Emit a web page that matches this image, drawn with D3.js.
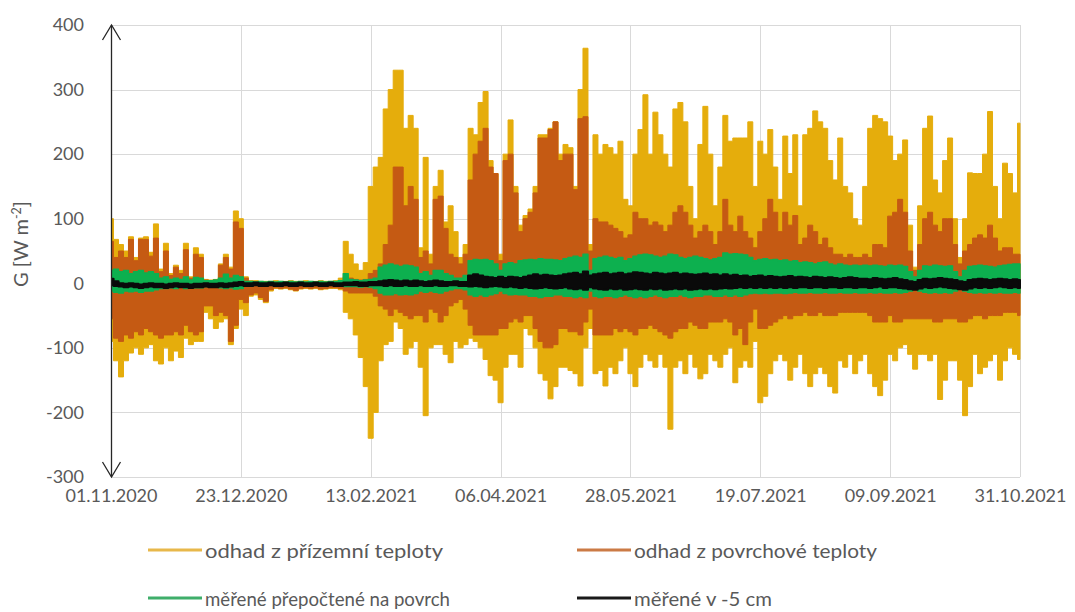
<!DOCTYPE html>
<html>
<head>
<meta charset="utf-8">
<script src="https://cdn.jsdelivr.net/npm/d3@7"></script>
<style>
  html, body { margin: 0; padding: 0; background: #fff; }
  svg { display: block; }
  text { font-family: Lato, "Open Sans", sans-serif; fill: #595959; }
</style>
</head>
<body>
<svg id="chart" width="1075" height="612"></svg>
<script>
// Soil heat flux G [W m-2], 01.11.2020 – 31.10.2021.
// Each series is stored as 2-day maxima and minima (one pair every second day).
const startDate = Date.UTC(2020, 10, 1);
const sampleStepDays = 2;

const yTicks = [-300, -200, -100, 0, 100, 200, 300, 400];
const xTickLabels = ["01.11.2020", "23.12.2020", "13.02.2021", "06.04.2021",
                     "28.05.2021", "19.07.2021", "09.09.2021", "31.10.2021"];

const seriesNames = ["odhad z přízemní teploty", "odhad z povrchové teploty",
                     "měřené přepočtené na povrch", "měřené v -5 cm"];

// odhad z přízemní teploty
const nearGroundMax = [100,68,60,50,72,40,70,72,48,92,
  22,62,15,28,20,62,10,55,45,6,
  5,6,30,45,25,112,100,10,4,4,
  3,3,3,4,3,3,4,3,3,4,
  3,3,4,3,3,4,8,65,45,30,
  20,32,150,180,195,270,300,330,330,240,
  260,240,55,195,45,150,175,95,120,80,
  40,60,240,230,280,297,190,170,45,200,
  253,150,90,105,115,150,230,230,240,250,
  200,215,210,150,300,364,60,230,200,215,
  210,200,220,130,120,200,238,292,200,265,
  230,200,180,270,280,250,150,100,215,274,
  200,120,180,260,220,225,225,225,250,150,
  220,200,238,180,130,228,170,230,120,230,
  240,267,250,240,190,160,225,150,140,100,
  90,150,240,260,255,250,228,190,200,222,
  90,25,120,240,259,160,140,190,225,100,
  40,100,171,170,170,200,266,150,100,186,
  170,140,248];
const nearGroundMin = [-90,-120,-145,-120,-108,-100,-110,-100,-95,-120,
  -125,-100,-120,-105,-115,-85,-95,-90,-90,-45,
  -55,-70,-60,-55,-95,-70,-40,-50,-20,-18,
  -25,-30,-12,-8,-9,-8,-10,-12,-9,-8,
  -9,-8,-10,-9,-8,-8,-10,-45,-55,-80,
  -115,-160,-240,-200,-120,-95,-90,-60,-70,-110,
  -100,-90,-130,-205,-100,-95,-95,-110,-123,-90,
  -100,-95,-85,-90,-100,-118,-143,-150,-185,-130,
  -110,-110,-130,-70,-80,-100,-140,-150,-179,-160,
  -130,-130,-135,-140,-159,-100,-70,-140,-135,-159,
  -130,-140,-120,-100,-140,-160,-130,-110,-120,-130,
  -110,-130,-226,-130,-120,-140,-110,-130,-148,-140,
  -110,-120,-130,-110,-100,-154,-130,-120,-130,-90,
  -185,-175,-140,-120,-110,-120,-150,-130,-110,-140,
  -160,-140,-130,-140,-160,-170,-120,-130,-110,-140,
  -120,-110,-140,-160,-174,-150,-110,-120,-100,-95,
  -110,-133,-110,-110,-120,-110,-180,-150,-120,-120,
  -150,-205,-160,-110,-140,-130,-120,-110,-150,-120,
  -100,-110,-118];

// odhad z povrchové teploty
const surfaceMax = [65,40,50,40,68,35,68,68,42,70,
  18,50,12,25,15,52,8,45,40,5,
  4,5,28,40,22,95,85,8,3,2,
  2,2,2,2,2,2,2,2,2,2,
  2,2,2,2,2,2,4,10,8,6,
  5,6,15,20,30,60,90,180,180,120,
  150,130,40,50,30,130,135,85,45,40,
  30,45,160,200,220,240,180,170,35,190,
  200,140,80,100,110,140,225,225,238,250,
  190,200,200,145,255,258,50,100,95,95,
  90,85,80,70,75,110,100,100,90,95,
  90,80,90,110,120,110,90,70,80,90,
  80,60,80,130,90,80,104,80,70,55,
  80,100,130,110,80,110,90,105,60,70,
  90,80,60,70,55,45,45,40,45,40,
  40,45,40,60,60,55,104,110,130,110,
  50,20,60,100,110,90,80,100,100,60,
  30,50,60,70,75,70,90,70,50,55,
  55,45,45];
const surfaceMin = [-55,-85,-90,-80,-85,-75,-80,-70,-75,-80,
  -85,-80,-80,-75,-80,-65,-75,-80,-75,-35,
  -35,-50,-45,-50,-90,-65,-25,-30,-18,-15,
  -22,-28,-10,-7,-8,-7,-9,-11,-8,-7,
  -8,-7,-9,-8,-7,-7,-8,-12,-15,-15,
  -15,-15,-15,-20,-35,-40,-50,-40,-45,-50,
  -55,-50,-50,-60,-40,-45,-60,-50,-35,-30,
  -25,-40,-65,-80,-80,-80,-80,-80,-70,-70,
  -60,-55,-60,-50,-50,-70,-90,-100,-100,-95,
  -70,-70,-75,-75,-80,-60,-40,-80,-80,-80,
  -80,-70,-75,-70,-75,-80,-70,-70,-65,-70,
  -75,-80,-85,-75,-70,-70,-60,-65,-70,-70,
  -60,-60,-60,-55,-60,-80,-70,-95,-60,-40,
  -70,-70,-65,-60,-55,-50,-55,-50,-50,-45,
  -50,-50,-45,-50,-50,-50,-45,-45,-45,-45,
  -45,-45,-50,-60,-60,-60,-50,-60,-60,-55,
  -55,-55,-55,-55,-55,-60,-60,-55,-55,-55,
  -60,-60,-55,-50,-50,-55,-50,-50,-50,-45,
  -45,-45,-50];

// měřené přepočtené na povrch
const measuredSurfaceMax = [20,22,18,20,15,18,20,16,18,15,
  8,10,6,8,6,10,5,9,8,
  4,4,5,8,
  14,8,12,10,
  3,3,2,3,2,3,2,3,2,3,2,3,2,3,2,3,2,3,3,4,
  15,
  6,5,4,5,6,8,
  25,28,30,28,26,28,27,25,
  15,18,12,20,20,15,12,8,8,12,
  35,37,36,37,35,30,20,
  30,32,30,35,36,37,36,38,37,37,36,35,38,
  40,42,40,45,20,38,40,42,40,38,40,35,38,42,44,45,44,42,40,42,45,44,40,38,40,42,40,38,36,38,40,
  47,45,46,45,44,40,
  35,37,38,36,37,35,36,34,35,32,33,32,30,32,33,30,28,30,28,27,28,27,
  28,27,28,27,26,28,27,28,26,18,10,20,27,26,28,27,26,27,18,10,20,26,27,28,27,26,25,27,28,29,30,30];
const measuredSurfaceMin = [-12,-14,-15,-12,-13,-12,-14,-12,-12,-10,
  -8,-8,-7,-8,-6,-8,-6,-7,-7,
  -5,-5,-5,-7,
  -8,-7,-9,-8,
  -3,-4,-3,-3,-4,-3,-3,-4,-3,-3,-4,-3,-3,-4,-3,-3,-4,-3,-3,-4,
  -5,
  -5,-5,-6,-5,-6,-8,
  -15,-18,-18,-16,-18,-17,-18,-16,
  -12,-14,-12,-14,-15,-12,-10,-8,-8,-10,
  -18,-20,-18,-20,-18,-16,-12,
  -16,-18,-17,-18,-18,-20,-20,-22,-20,-20,-18,-18,-20,
  -20,-22,-20,-22,-12,-20,-22,-20,-20,-22,-20,-18,-20,-22,-20,-22,-20,-18,-20,-22,-20,-20,-18,-20,-22,-20,-20,-18,-18,-20,-20,
  -18,-20,-18,-20,-18,-16,
  -15,-16,-15,-16,-15,-15,-16,-15,-14,-15,-15,-14,-15,-15,-14,-15,-15,-14,-15,-15,-14,-15,
  -15,-14,-15,-14,-15,-15,-14,-15,-14,-12,-8,-12,-14,-15,-14,-15,-14,-15,-12,-8,-12,-14,-15,-14,-15,-14,-15,-14,-15,-15,-14,-15];

// měřené v -5 cm
const measured5cmMax = [7,3,0,
  -1,0,-1,-2,-1,0,-1,-1,-2,-1,0,-1,-1,-2,-1,-1,0,-1,-1,0,-1,0,1,
  2,0,0,1,0,0,1,0,0,1,0,0,1,0,0,1,0,0,1,0,0,1,1,2,1,1,2,
  2,3,4,5,4,3,4,3,4,3,2,3,4,3,2,2,3,2,2,
  12,14,12,10,9,8,10,
  8,10,9,8,10,12,14,12,13,12,11,12,14,
  15,16,14,18,12,14,15,16,14,15,16,14,15,17,16,15,14,16,15,14,15,16,14,15,14,13,14,15,13,14,12,
  14,12,13,11,12,10,11,12,10,11,10,9,10,11,9,10,9,8,10,9,8,9,8,7,8,9,8,7,
  7,6,8,7,6,7,8,6,5,3,2,5,7,6,7,8,7,6,5,3,2,5,6,7,6,5,6,7,6,5,6,5];
const measured5cmMin = [-3,-4,-5,
  -6,-5,-6,-7,-6,-5,-6,-6,-7,-6,-5,-6,-6,-7,-6,-6,-5,-6,-6,-5,-6,-5,-4,
  -3,-4,-4,-3,-4,-4,-3,-4,-4,-3,-4,-4,-3,-4,-4,-3,-4,-4,-3,-4,-4,-3,-3,-3,-4,-4,-3,
  -3,-3,-4,-3,-4,-4,-3,-4,-4,-3,-4,-4,-3,-4,-4,-3,-3,-4,-4,
  -5,-4,-5,-6,-5,-4,-5,
  -6,-5,-6,-7,-6,-7,-8,-7,-6,-7,-8,-7,-6,
  -8,-9,-8,-10,-6,-8,-9,-10,-8,-9,-8,-10,-9,-8,-9,-10,-8,-9,-8,-10,-9,-8,-9,-8,-10,-9,-8,-9,-8,-9,-8,
  -7,-8,-7,-6,-7,-6,-7,-6,-7,-6,-7,-6,-7,-6,-7,-6,-6,-7,-6,-6,-7,-6,-6,-7,-6,-6,-7,-6,
  -6,-7,-6,-5,-7,-6,-6,-7,-8,-9,-10,-8,-6,-7,-6,-5,-6,-7,-8,-9,-10,-8,-6,-7,-6,-7,-6,-5,-6,-7,-6,-7];

const seriesColors = ["#E5AD0C", "#C55A13", "#0DB04F", "#0A0A0A"];
const legendColors = ["#E8B84A", "#CB7A45", "#3FAE6A", "#1a1a1a"];

// ---- layout ----
const plot = { left: 111, right: 1020, top: 25, bottom: 477 };
const svg = d3.select("#chart");

const dayMs = 86400000;
const dayToDate = d => new Date(startDate + d * dayMs);
const parseLabel = d3.utcParse("%d.%m.%Y");

const x = d3.scaleUtc()
  .domain([dayToDate(0), parseLabel("31.10.2021")])
  .range([plot.left, plot.right]);
const y = d3.scaleLinear()
  .domain([d3.min(yTicks), d3.max(yTicks)])
  .range([plot.bottom, plot.top]);

const xTickDates = xTickLabels.map(parseLabel);

// grid
const grid = svg.append("g").attr("stroke", "#D9D9D9").attr("stroke-width", 1).attr("shape-rendering", "crispEdges");
grid.selectAll("line.h").data(yTicks).join("line")
  .attr("x1", plot.left).attr("x2", plot.right)
  .attr("y1", d => Math.round(y(d)) + 0.5).attr("y2", d => Math.round(y(d)) + 0.5);
grid.selectAll("line.v").data(xTickDates).join("line")
  .attr("x1", d => Math.round(x(d)) + 0.5).attr("x2", d => Math.round(x(d)) + 0.5)
  .attr("y1", plot.top).attr("y2", plot.bottom);

// series: stepped band between the 2-day minimum and maximum
function samples(maxArr, minArr) {
  return maxArr.map((mx, i) => ({ date: dayToDate(i * sampleStepDays), max: mx, min: minArr[i] }));
}
const band = d3.area()
  .curve(d3.curveStep)
  .x(d => x(d.date))
  .y0(d => y(d.min))
  .y1(d => y(d.max));

svg.append("clipPath").attr("id", "plotClip").append("rect")
  .attr("x", plot.left).attr("y", plot.top - 5)
  .attr("width", plot.right - plot.left + 1).attr("height", plot.bottom - plot.top + 10);

const seriesData = [
  { max: nearGroundMax, min: nearGroundMin, width: 1 },
  { max: surfaceMax, min: surfaceMin, width: 1 },
  { max: measuredSurfaceMax, min: measuredSurfaceMin, width: 1.4 },
  { max: measured5cmMax, min: measured5cmMin, width: 2.2 }
];
const gSeries = svg.append("g").attr("clip-path", "url(#plotClip)");
seriesData.forEach((s, i) => {
  gSeries.append("path")
    .attr("d", band(samples(s.max, s.min)))
    .attr("fill", seriesColors[i])
    .attr("stroke", seriesColors[i])
    .attr("stroke-width", s.width)
    .attr("stroke-linejoin", "round");
});

// y axis labels
const yAxis = svg.append("g")
  .attr("transform", `translate(${plot.left},0)`)
  .call(d3.axisLeft(y).tickValues(yTicks).tickSize(0).tickPadding(27).tickFormat(d => String(d)));
yAxis.select(".domain").remove();
yAxis.selectAll("text").style("font-size", "18px").attr("fill", "#595959");

// x axis labels
const xAxis = svg.append("g")
  .attr("transform", `translate(0,${plot.bottom})`)
  .call(d3.axisBottom(x).tickValues(xTickDates).tickSize(0).tickPadding(12)
    .tickFormat(d3.utcFormat("%d.%m.%Y")));
xAxis.select(".domain").remove();
xAxis.selectAll("text").style("font-size", "18px").attr("fill", "#595959");

// vertical axis drawn as a double-headed arrow
const ax = Math.round(plot.left) + 0.5;
const arrow = svg.append("g").attr("stroke", "#262626").attr("stroke-width", 1.3).attr("fill", "none");
arrow.append("line").attr("x1", ax).attr("x2", ax).attr("y1", plot.top).attr("y2", plot.bottom);
arrow.append("path").attr("d", `M${ax - 9},${plot.top + 15} L${ax},${plot.top} L${ax + 9},${plot.top + 15}`);
arrow.append("path").attr("d", `M${ax - 9},${plot.bottom - 15} L${ax},${plot.bottom} L${ax + 9},${plot.bottom - 15}`);

// y axis title
const yTitle = svg.append("text")
  .attr("transform", "translate(28,244) rotate(-90)")
  .attr("text-anchor", "middle")
  .style("font-size", "20px");
yTitle.append("tspan").text("G [W m");
yTitle.append("tspan").attr("dy", "-7").style("font-size", "12.5px").text("-2");
yTitle.append("tspan").attr("dy", "7").text("]");

// legend
const legendItems = [
  { x: 148, y: 550, w: 238 }, { x: 577, y: 550, w: 243 },
  { x: 148, y: 598, w: 245 }, { x: 577, y: 598, w: 138 }
];
const legend = svg.append("g");
legendItems.forEach((p, i) => {
  legend.append("line")
    .attr("x1", p.x).attr("x2", p.x + 54)
    .attr("y1", p.y).attr("y2", p.y)
    .attr("stroke", legendColors[i]).attr("stroke-width", 3);
  legend.append("text")
    .attr("x", p.x + 57).attr("y", p.y)
    .attr("dominant-baseline", "central")
    .attr("textLength", p.w)
    .attr("lengthAdjust", "spacingAndGlyphs")
    .style("font-size", "20px")
    .text(seriesNames[i]);
});
</script>
</body>
</html>
